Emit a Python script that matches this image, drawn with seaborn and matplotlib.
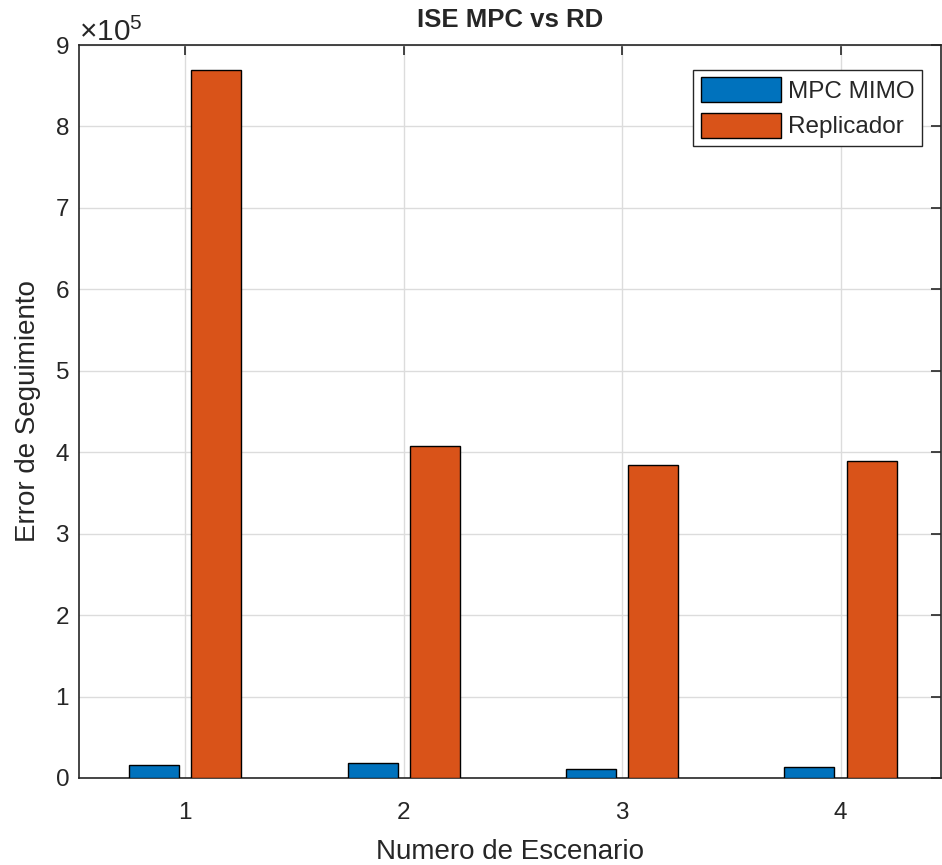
import matplotlib
matplotlib.use("Agg")
import matplotlib.pyplot as plt
import seaborn as sns
import pandas as pd

# Scenario numbers and tracking error (ISE) for each controller
escenarios = ["1", "2", "3", "4"]
mpc_mimo = [16500, 18900, 11500, 14000]
replicador = [869100, 407700, 384900, 389300]
series = ["MPC MIMO", "Replicador"]
colores = ["#0072BD", "#D95319"]

df = pd.DataFrame({
    "Escenario": escenarios * 2,
    "Error": mpc_mimo + replicador,
    "Controlador": [series[0]] * len(escenarios) + [series[1]] * len(escenarios),
})

sns.set_theme(style="white")
plt.rcParams["font.family"] = ["Liberation Sans", "DejaVu Sans"]
plt.rcParams["mathtext.fontset"] = "custom"
plt.rcParams["mathtext.rm"] = "Liberation Sans"

W, H = 942, 865
fig = plt.figure(figsize=(W / 100, H / 100), dpi=100)
ax = fig.add_axes([79 / W, 1 - 778 / H, (941 - 79) / W, (778 - 45) / H])

sns.barplot(
    data=df, x="Escenario", y="Error", hue="Controlador",
    palette=colores, saturation=1, width=0.568, gap=0.194,
    edgecolor="black", linewidth=1.0, ax=ax, zorder=3,
)

ax.set_xlim(-0.486, 3.46)
ax.set_ylim(0, 900000)
ax.set_yticks([i * 100000 for i in range(10)])
ax.ticklabel_format(axis="y", style="sci", scilimits=(0, 0), useMathText=True)
ax.yaxis.get_offset_text().set_fontsize(21.5)
ax.yaxis.get_offset_text().set_color("#262626")

ax.grid(True, color="#dcdcdc", linewidth=1.0, zorder=0)
ax.set_axisbelow(True)

for s in ax.spines.values():
    s.set_color("#262626")
    s.set_linewidth(1.2)

ax.tick_params(axis="both", which="both", direction="in", length=7, width=1.2,
               colors="#262626", labelsize=17.5, top=True, right=True,
               labelcolor="#262626")
ax.tick_params(axis="x", pad=17)
ax.tick_params(axis="y", pad=7)

ax.set_title("ISE MPC vs RD", fontsize=18.5, fontweight="bold", pad=13)
ax.set_xlabel("Numero de Escenario", fontsize=20, color="#262626", labelpad=11)
ax.set_ylabel("Error de Seguimiento", fontsize=20, color="#262626", labelpad=10)

leg = ax.legend(
    loc="upper right", bbox_to_anchor=(0.978, 0.966), fontsize=17.5,
    frameon=True, fancybox=False, edgecolor="#262626", framealpha=1,
    handlelength=3.3, handleheight=1.2, handletextpad=0.3,
    borderpad=0.3, labelspacing=0.4, borderaxespad=0,
)
leg.get_frame().set_linewidth(1.0)

fig.savefig("out.png", dpi=100)
